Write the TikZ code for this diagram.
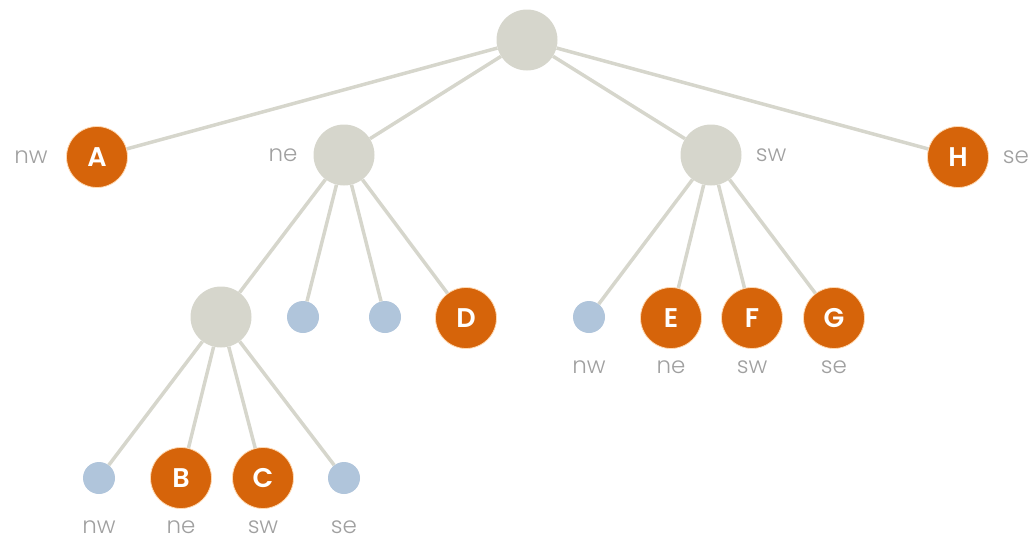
\documentclass[tikz,border=0pt]{standalone}
\usepackage{fontspec}
\setmainfont{Poppins}[BoldFont={Poppins SemiBold}]
\newfontfamily\lightfont{Poppins Light}
\definecolor{orangeN}{RGB}{214,100,10}
\definecolor{grayN}{RGB}{214,214,204}
\definecolor{blueN}{RGB}{176,197,219}
\definecolor{edgeC}{RGB}{214,214,204}
\definecolor{labC}{RGB}{160,160,160}
\begin{document}
\begin{tikzpicture}[x=1pt,y=-1pt,
  inner/.style={circle,fill=grayN,minimum size=61pt,inner sep=0pt},
  leaf/.style={circle,fill=orangeN,draw=orange!30,line width=0.8pt,minimum size=61pt,inner sep=0pt,text=white,font=\fontsize{27}{27}\selectfont\bfseries},
  empty/.style={circle,fill=blueN,minimum size=32pt,inner sep=0pt},
  lab/.style={text=labC,font=\lightfont\fontsize{23}{23}\selectfont,inner sep=0pt},
  edge/.style={draw=edgeC,line width=3.5pt}]
\useasboundingbox (0,0) rectangle (1033,541);
% nodes
\node[inner] (r) at (527,40) {};
\node[leaf] (A) at (97,157) {A};
\node[inner] (ne) at (344,155) {};
\node[inner] (sw) at (711,155) {};
\node[leaf] (H) at (958,157) {H};
\node[inner] (g) at (221,317) {};
\node[empty] (b1) at (303,317) {};
\node[empty] (b2) at (385,317) {};
\node[leaf] (D) at (466,318) {D};
\node[empty] (b3) at (589,317) {};
\node[leaf] (E) at (671,318) {E};
\node[leaf] (F) at (752,318) {F};
\node[leaf] (G) at (834,318) {G};
\node[empty] (b4) at (99,478) {};
\node[leaf] (B) at (181,478) {B};
\node[leaf] (C) at (263,478) {C};
\node[empty] (b5) at (344,478) {};
% labels
\node[lab] (l1) at (31,157) {nw};
\node[lab] (l2) at (283,155) {ne};
\node[lab] (l3) at (771,155) {sw};
\node[lab] (l4) at (1016,157) {se};
\node[lab] (l5) at (589,367) {nw};
\node[lab] (l6) at (671,367) {ne};
\node[lab] (l7) at (752,367) {sw};
\node[lab] (l8) at (834,367) {se};
\node[lab] (l9) at (99,527) {nw};
\node[lab] (l10) at (181,527) {ne};
\node[lab] (l11) at (263,527) {sw};
\node[lab] (l12) at (344,527) {se};
% edges
\draw[edge] (r) -- (A);
\draw[edge] (r) -- (ne);
\draw[edge] (r) -- (sw);
\draw[edge] (r) -- (H);
\draw[edge] (ne) -- (g);
\draw[edge] (ne) -- (b1);
\draw[edge] (ne) -- (b2);
\draw[edge] (ne) -- (D);
\draw[edge] (sw) -- (b3);
\draw[edge] (sw) -- (E);
\draw[edge] (sw) -- (F);
\draw[edge] (sw) -- (G);
\draw[edge] (g) -- (b4);
\draw[edge] (g) -- (B);
\draw[edge] (g) -- (C);
\draw[edge] (g) -- (b5);
\end{tikzpicture}
\end{document}
